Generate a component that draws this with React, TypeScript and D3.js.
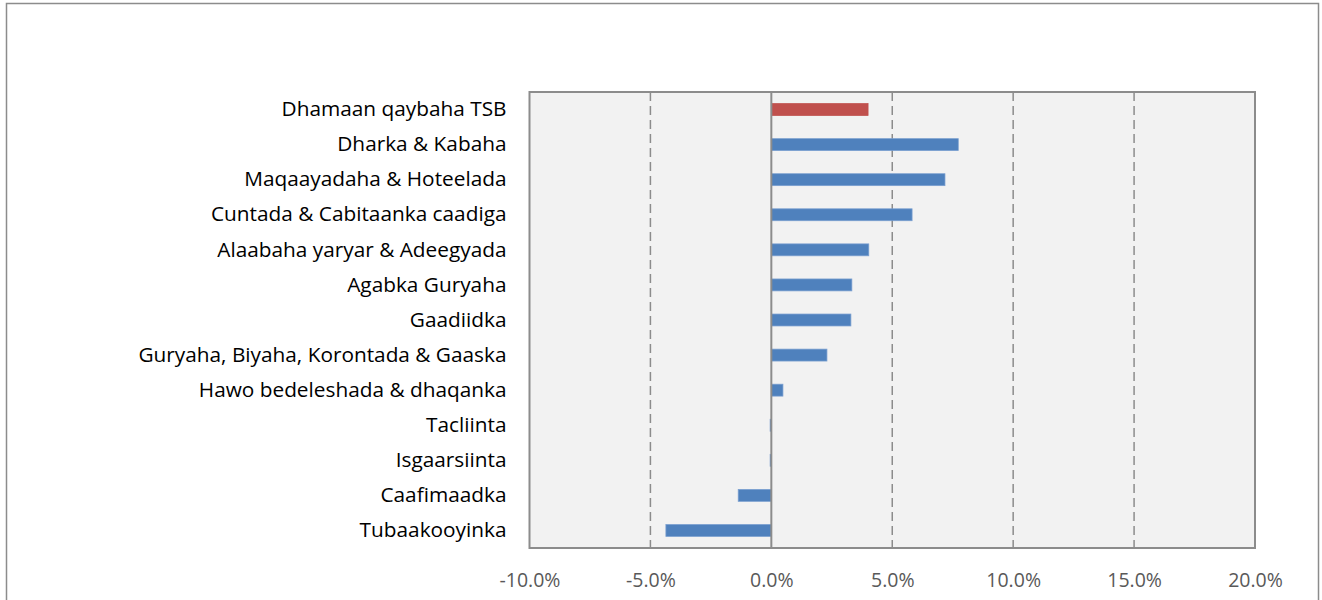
import React, { useEffect, useRef } from 'react';
import * as d3 from 'd3';

// categories, top to bottom
const categories = [
  'Dhamaan qaybaha TSB',
  'Dharka & Kabaha',
  'Maqaayadaha & Hoteelada',
  'Cuntada & Cabitaanka caadiga',
  'Alaabaha yaryar & Adeegyada',
  'Agabka Guryaha',
  'Gaadiidka',
  'Guryaha, Biyaha, Korontada & Gaaska',
  'Hawo bedeleshada & dhaqanka',
  'Tacliinta',
  'Isgaarsiinta',
  'Caafimaadka',
  'Tubaakooyinka',
];

// percent change
const values = [4.0, 7.73, 7.18, 5.82, 4.03, 3.33, 3.29, 2.3, 0.48, -0.05, -0.05, -1.37, -4.36];

const xTicks = [-10, -5, 0, 5, 10, 15, 20];

const App = () => {
  const ref = useRef<SVGSVGElement>(null);

  useEffect(() => {
    const svg = d3.select(ref.current);
    svg.selectAll('*').remove();

    // outer frame
    svg.append('rect')
      .attr('x', 6.5).attr('y', 3.5)
      .attr('width', 1312).attr('height', 620)
      .attr('fill', 'white')
      .attr('stroke', '#8c8c8c')
      .attr('stroke-width', 1.5);

    const left = 529.5, right = 1255, top = 92, bottom = 548;

    const x = d3.scaleLinear().domain([-10, 20]).range([left, right]);
    const y = d3.scaleBand().domain(categories).range([top, bottom]).paddingInner(0.66).paddingOuter(0.33);

    // plot background
    svg.append('rect')
      .attr('x', left).attr('y', top)
      .attr('width', right - left).attr('height', bottom - top)
      .attr('fill', '#f2f2f2');

    // dashed grid
    svg.append('g')
      .selectAll('line')
      .data(xTicks.filter(t => t !== 0 && t !== -10 && t !== 20))
      .enter()
      .append('line')
      .attr('x1', d => x(d)).attr('x2', d => x(d))
      .attr('y1', top).attr('y2', bottom)
      .attr('stroke', '#8c8c8c')
      .attr('stroke-width', 1.5)
      .attr('stroke-dasharray', '9,5');

    // bars
    svg.append('g')
      .selectAll('rect')
      .data(values)
      .enter()
      .append('rect')
      .attr('x', d => x(Math.min(0, d)))
      .attr('y', (d, i) => y(categories[i]) as number)
      .attr('width', d => Math.abs(x(d) - x(0)))
      .attr('height', y.bandwidth())
      .attr('fill', (d, i) => (i === 0 ? '#c0504d' : '#4f81bd'))
      .attr('stroke', (d, i) => (i === 0 ? '#c0504d' : '#7a9fd0'))
      .attr('stroke-width', 0.75);

    // zero axis
    svg.append('line')
      .attr('x1', x(0)).attr('x2', x(0))
      .attr('y1', top).attr('y2', bottom)
      .attr('stroke', '#8c8c8c')
      .attr('stroke-width', 2);

    // plot border
    svg.append('rect')
      .attr('x', left).attr('y', top)
      .attr('width', right - left).attr('height', bottom - top)
      .attr('fill', 'none')
      .attr('stroke', '#8c8c8c')
      .attr('stroke-width', 2);

    // x axis
    const xAxis = svg.append('g')
      .attr('transform', `translate(0,${bottom})`)
      .call(d3.axisBottom(x).tickValues(xTicks).tickSize(0).tickPadding(25).tickFormat(d => `${(+d).toFixed(1)}%`));
    xAxis.select('.domain').remove();
    xAxis.selectAll('text')
      .attr('fill', '#595959')
      .style('font-family', '"Open Sans", sans-serif')
      .style('font-size', '19.5px');

    // y labels
    const yAxis = svg.append('g')
      .attr('transform', `translate(${left},0)`)
      .call(d3.axisLeft(y).tickSize(0).tickPadding(23));
    yAxis.select('.domain').remove();
    yAxis.selectAll('text')
      .attr('fill', '#000')
      .style('font-family', '"Open Sans", sans-serif')
      .style('font-size', '20.8px');
  }, []);

  return (
    <svg ref={ref} width={1322} height={600} style={{ position: 'absolute', left: 0, top: 0 }} />
  );
};

export default App;
